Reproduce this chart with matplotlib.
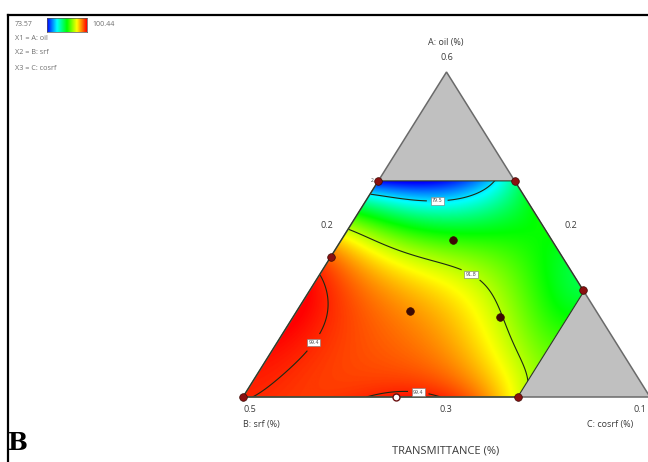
import numpy as np
import matplotlib
matplotlib.use('Agg')
import matplotlib.pyplot as plt
from matplotlib.colors import LinearSegmentedColormap
from matplotlib.patches import Polygon
from matplotlib.lines import Line2D

# pseudo-component limits of the constrained mixture region
a_max = 0.665   # A: oil
c_max = 0.675   # C: cosrf
t_min, t_max = 73.57, 100.44

# design runs (pseudo A, pseudo C; B = 1 - A - C)
run_a = [0.665, 0.665, 0.431, 0.329, 0.483, 0.265, 0.246, 0.0, 0.0]
run_c = [0.0, 0.335, 0.0, 0.671, 0.2745, 0.278, 0.508, 0.0, 0.675]
run_inner = [False, False, False, False, True, True, True, False, False]
check_a = [0.0]
check_c = [0.376]

# transmittance (%) read over the region, pseudo A / pseudo C
read_a = [0, .1, .2, .3, .4, .431, .47, .514, .55, .59, .621, .645, .665,
          .665, .665, .665, .665, .665,
          .605, .597, .600, .628,
          .62, .55, .45, .33,
          .05, .15, .25,
          0, 0, 0, 0, 0, 0, 0, 0, 0, 0, .015,
          .477, .452, .428, .42, .39, .36, .308, .246, .185, .105,
          .36, .206, .052,
          .351, .258, .197, .16, .092, .031,
          .265, .145, .35, .45, .15, .05, .10, .2,
          .483, .56, .575, .452, .298, .4, .5, .2]
read_c = [0, 0, 0, 0, 0, 0, 0, 0, 0, 0, 0, 0, 0,
          .1, .2, .27, .30, .335,
          .07, .136, .19, .26,
          .38, .45, .55, .67,
          .674, .675, .675,
          .1, .2, .3, .349, .43, .508, .55, .6, .64, .675, .43,
          .081, .152, .221, .281, .405, .427, .473, .508, .557, .628,
          .255, .455, .618,
          .021, .08, .103, .102, .094, .058,
          .278, .41, .10, .05, .20, .20, .40, .04,
          .2745, .155, .295, .455, .58, .5, .35, .6]
read_t = [99.37, 100.04, 100.17, 100.04, 99.37, 98.02, 95.07, 91.84, 88.89, 84.32, 79.48, 76.26, 73.57,
          74.11, 75.18, 77.33, 79.48, 84.32,
          79.48, 79.48, 79.48, 79.48,
          85.66, 87.0, 87.0, 84.86,
          91.84, 89.69, 87.54,
          99.10, 98.96, 99.23, 99.37, 99.77, 99.37, 98.29, 96.68, 94.53, 92.92, 99.37,
          91.84, 91.84, 91.84, 91.84, 91.84, 91.84, 91.84, 91.84, 91.84, 91.84,
          93.72, 93.72, 93.72,
          99.37, 99.37, 99.37, 99.37, 99.37, 99.37,
          96.95, 96.95, 97.22, 95.07, 98.56, 98.83, 97.75, 99.90,
          87.0, 84.86, 84.86, 87.0, 88.35, 87.54, 86.47, 90.23]
levels = [79.5, 91.8, 99.4]

deg = 6


def basis(a, c):
    a = np.asarray(a, float)
    c = np.asarray(c, float)
    return np.stack([a**i * c**j for i in range(deg + 1)
                     for j in range(deg + 1 - i)], axis=-1)


M = basis(read_a, read_c)
lam = 1e-7
coef = np.linalg.solve(M.T @ M + lam * np.eye(M.shape[1]), M.T @ np.array(read_t))


def to_xy(a, c):
    a = np.asarray(a, float)
    c = np.asarray(c, float)
    return c + a / 2, a


cmap = LinearSegmentedColormap.from_list(
    'de', ['#0000ff', '#00ffff', '#00ff00', '#ffff00', '#ff0000'])

fig = plt.figure(figsize=(6.48, 4.62), dpi=100)
ax = fig.add_axes([243 / 648, 65 / 462, 407 / 648, 325 / 462])
ax.set_xlim(0, 1)
ax.set_ylim(0, 1)
ax.axis('off')

# response surface on a grid
xs = np.linspace(0, 1, 700)
ys = np.linspace(0, 0.7, 500)
X, Y = np.meshgrid(xs, ys)
A = Y
C = X - Y / 2
Z = basis(A, C) @ coef

region = [to_xy(0, 0), to_xy(0, c_max), to_xy(1 - c_max, c_max),
          to_xy(a_max, 1 - a_max), to_xy(a_max, 0)]
clip = Polygon(region, closed=True, fc='none', ec='none', transform=ax.transData)
ax.add_patch(clip)

im = ax.imshow(Z, extent=[0, 1, 0, 0.7], origin='lower', cmap=cmap,
               vmin=t_min, vmax=t_max, aspect='auto', interpolation='bilinear',
               zorder=1)
im.set_clip_path(clip)

cs = ax.contour(X, Y, Z, levels=levels, colors='#1c2a14', linewidths=0.8, zorder=2)
cs.set_clip_path(clip)
lbl_pos = [(0.477, 0.615), (0.570, 0.40), (0.182, 0.16), (0.432, 0.028)]
labels = ax.clabel(cs, fmt='%.1f', fontsize=3.5, inline=True, manual=lbl_pos)
for t in labels:
    t.set_rotation(0)
    t.set_color('#555555')
    t.set_bbox(dict(boxstyle='square,pad=0.25', fc='white', ec='#777777', lw=0.4))

# gray excluded corners
gray = '#c0c0c0'
ax.add_patch(Polygon([to_xy(a_max, 0), to_xy(1, 0), to_xy(a_max, 1 - a_max)],
                     closed=True, fc=gray, ec='none', zorder=1))
ax.add_patch(Polygon([to_xy(0, c_max), to_xy(0, 1), to_xy(1 - c_max, c_max)],
                     closed=True, fc=gray, ec='none', zorder=1))

# outlines
ax.add_patch(Polygon([(0, 0), (1, 0), (0.5, 1)], closed=True, fc='none',
                     ec='#6a6a6a', lw=1.1, zorder=3, clip_on=False))
ax.add_patch(Polygon(region, closed=True, fc='none', ec='#2c3a24', lw=0.8,
                     zorder=3, clip_on=False))

# design runs
rx, ry = to_xy(run_a, run_c)
for x, y, inner in zip(rx, ry, run_inner):
    ax.plot(x, y, 'o', ms=5.5, mfc='#3c0a04' if inner else '#8a1010',
            mec='#3c0a04', mew=0.5, zorder=5, clip_on=False)
cx, cy = to_xy(check_a, check_c)
ax.plot(cx, cy, 'o', ms=5, mfc='white', mec='#6a1010', mew=1.0, zorder=5,
        clip_on=False)

fnt = 'Open Sans'
tc = '#3a3a3a'


def ftext(px, py, s, size=6.5, ha='center', color=tc, **kw):
    fig.text(px / 648, 1 - py / 462, s, fontsize=size, ha=ha, va='center',
             color=color, family=fnt, **kw)


ftext(446, 42, 'A: oil (%)')
ftext(447, 58, '0.6')
ftext(327, 226, '0.2')
ftext(571, 226, '0.2')
ftext(243, 410, '0.5', ha='left')
ftext(243, 424, 'B: srf (%)', ha='left')
ftext(446, 410, '0.3')
ftext(634, 410, '0.1', ha='left')
ftext(587, 424, 'C: cosrf (%)', ha='left')
ftext(446, 451, 'TRANSMITTANCE (%)', size=8)
ftext(372, 181, '2', size=3.5)

fig.text(8 / 648, 1 - 443 / 462, 'B', fontsize=17, fontweight='bold',
         family='DejaVu Serif', va='center', ha='left', color='black')

# colour key and factor list
kc = '#6e6e6e'
ftext(15, 24, '73.57', size=5, ha='left', color=kc)
ftext(92, 24, '100.44', size=5, ha='left', color=kc)
ftext(15, 39, 'X1 = A: oil', size=5.2, ha='left', color=kc)
ftext(15, 53, 'X2 = B: srf', size=5.2, ha='left', color=kc)
ftext(15, 68, 'X3 = C: cosrf', size=5.2, ha='left', color=kc)
kax = fig.add_axes([47 / 648, 1 - 32 / 462, 40 / 648, 14 / 462])
kax.imshow(np.linspace(0, 1, 200)[None, :], cmap=cmap, aspect='auto')
kax.set_xticks([])
kax.set_yticks([])
for s in kax.spines.values():
    s.set_color('#555555')
    s.set_linewidth(0.5)

# frame lines
fig.add_artist(Line2D([8 / 648, 1], [1 - 15 / 462] * 2, color='black', lw=1.6,
                      transform=fig.transFigure))
fig.add_artist(Line2D([8 / 648] * 2, [0, 1 - 15 / 462], color='black', lw=1.6,
                      transform=fig.transFigure))

fig.savefig('out.png', dpi=100)
